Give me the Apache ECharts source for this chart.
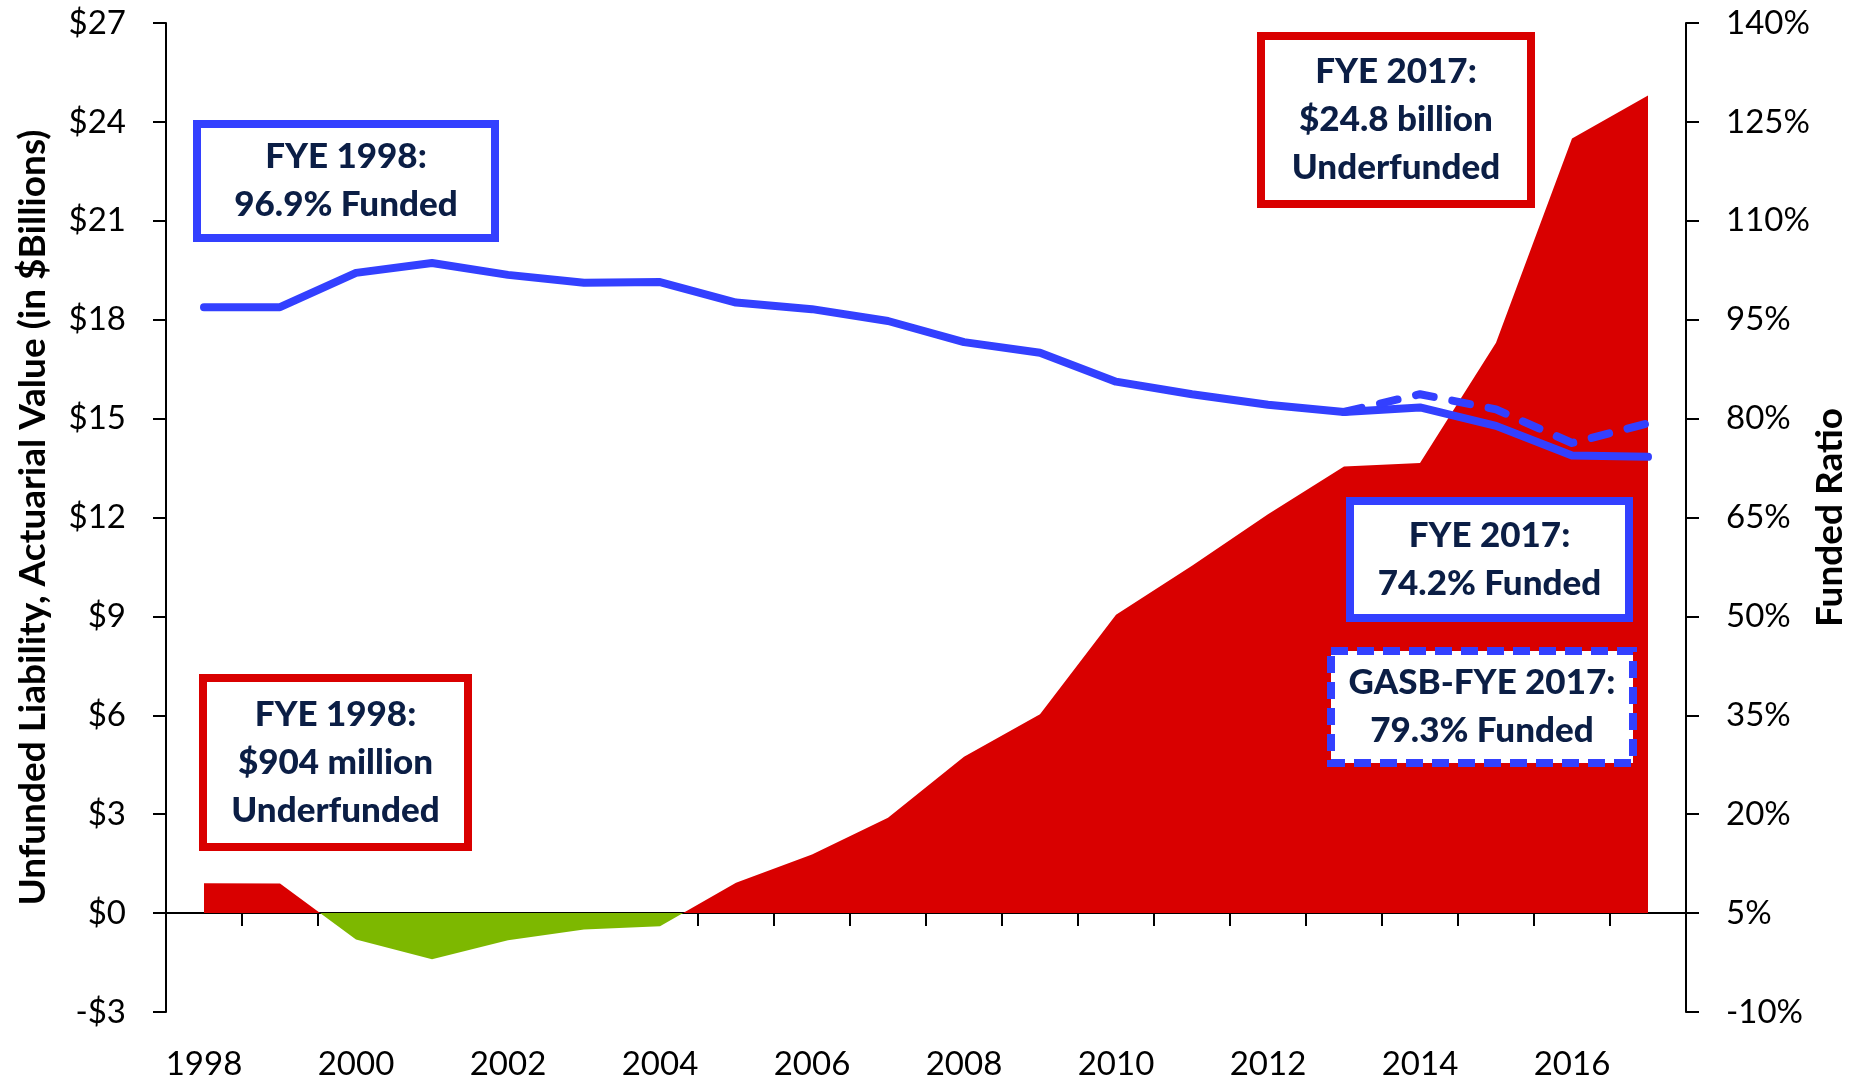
<!DOCTYPE html>
<html>
<head>
<meta charset="utf-8">
<script src="https://cdn.jsdelivr.net/npm/echarts@6/dist/echarts.min.js"></script>
<style>
html,body{margin:0;padding:0;background:#fff;}
#chart{width:1862px;height:1081px;}
</style>
</head>
<body>
<div id="chart"></div>
<script>
// ---- data ----
const years = ['1998','1999','2000','2001','2002','2003','2004','2005','2006','2007',
               '2008','2009','2010','2011','2012','2013','2014','2015','2016','2017'];
// Unfunded liability, actuarial value ($ billions)
const unfundedLiability = [0.904, 0.9, -0.8, -1.4, -0.82, -0.5, -0.4, 0.92, 1.78, 2.89,
                           4.74, 6.03, 9.05, 10.54, 12.1, 13.55, 13.65, 17.3, 23.5, 24.8];
// Funded ratio (%)
const fundedRatio = [96.9, 96.9, 102.1, 103.6, 101.8, 100.6, 100.7, 97.6, 96.6, 94.8,
                     91.6, 90.0, 85.6, 83.7, 82.1, 81.0, 81.7, 78.9, 74.4, 74.2];
// GASB funded ratio (%)
const gasbFundedRatio = [null, null, null, null, null, null, null, null, null, null,
                         null, null, null, null, null, 81.0, 83.7, 81.4, 76.3, 79.3];
// axis ranges / ticks
const leftAxisRange = [-3, 27, 3];
const rightAxisRange = [-10, 140, 15];
// annotation texts
const notes = {
  blue1998: 'FYE 1998:\n96.9% Funded',
  red2017: 'FYE 2017:\n$24.8 billion\nUnderfunded',
  red1998: 'FYE 1998:\n$904 million\nUnderfunded',
  blue2017: 'FYE 2017:\n74.2% Funded',
  gasb2017: 'GASB-FYE 2017:\n79.3% Funded'
};

const RED = '#D90000', GREEN = '#7DB800', BLUE = '#3340FF', NAVY = '#0B1E45';
const FONT = 'Lato';

function box(x, y, w, h, color, text, dashed) {
  return [
    {
      type: 'rect', z: 100,
      shape: {x: x, y: y, width: w, height: h},
      style: {fill: '#fff', stroke: color, lineWidth: 8, lineDash: dashed ? [17, 9] : null}
    },
    {
      type: 'text', z: 101,
      x: x + w / 2, y: y + h / 2,
      style: {
        text: text, align: 'center', verticalAlign: 'middle',
        fontFamily: FONT, fontWeight: 900, fontSize: 35, lineHeight: 48, fill: NAVY
      }
    }
  ];
}

const chart = echarts.init(document.getElementById('chart'));
chart.setOption({
  animation: false,
  backgroundColor: '#fff',
  grid: {left: 166, right: 176, top: 23, bottom: 69, containLabel: false, outerBoundsMode: 'none'},
  xAxis: {
    type: 'category',
    data: years,
    boundaryGap: true,
    axisLine: {onZero: true, onZeroAxisIndex: 0, lineStyle: {color: '#000', width: 2}},
    axisTick: {show: true, interval: 0, length: 13, lineStyle: {color: '#000', width: 2}},
    axisLabel: {interval: 1, fontSize: 33, color: '#000', fontFamily: FONT, margin: 36},
    splitLine: {show: false}
  },
  yAxis: [
    {
      type: 'value',
      min: leftAxisRange[0], max: leftAxisRange[1], interval: leftAxisRange[2],
      position: 'left',
      name: 'Unfunded Liability, Actuarial Value (in $Billions)',
      nameLocation: 'middle', nameRotate: 90, nameGap: 114, nameMoveOverlap: false,
      nameTextStyle: {fontSize: 37, fontWeight: 'bold', color: '#000', fontFamily: FONT},
      axisLine: {show: true, onZero: false, lineStyle: {color: '#000', width: 2}},
      axisTick: {show: true, length: 13, lineStyle: {color: '#000', width: 2}},
      axisLabel: {
        fontSize: 33, color: '#000', fontFamily: FONT, margin: 40,
        formatter: v => (v < 0 ? '-$' + (-v) : '$' + v)
      },
      splitLine: {show: false}
    },
    {
      type: 'value',
      min: rightAxisRange[0], max: rightAxisRange[1], interval: rightAxisRange[2],
      position: 'right',
      name: 'Funded Ratio',
      nameLocation: 'middle', nameRotate: 90, nameGap: 126, nameMoveOverlap: false,
      nameTextStyle: {fontSize: 37, fontWeight: 'bold', color: '#000', fontFamily: FONT},
      axisLine: {show: true, onZero: false, lineStyle: {color: '#000', width: 2}},
      axisTick: {show: true, length: 13, lineStyle: {color: '#000', width: 2}},
      axisLabel: {
        fontSize: 33, color: '#000', fontFamily: FONT, margin: 40,
        formatter: v => v + '%'
      },
      splitLine: {show: false}
    }
  ],
  visualMap: {
    show: false,
    type: 'piecewise',
    seriesIndex: 0,
    dimension: 1,
    pieces: [
      {gte: leftAxisRange[0], lt: 0, color: GREEN},
      {gte: 0, lte: leftAxisRange[1], color: RED}
    ]
  },
  series: [
    {
      name: 'Unfunded Liability',
      type: 'line',
      yAxisIndex: 0,
      data: unfundedLiability,
      showSymbol: false,
      lineStyle: {width: 0, opacity: 0},
      areaStyle: {opacity: 1, origin: 0}
    },
    {
      name: 'Funded Ratio',
      type: 'line',
      yAxisIndex: 1,
      data: fundedRatio,
      showSymbol: false,
      itemStyle: {color: BLUE},
      lineStyle: {color: BLUE, width: 8, cap: 'round', join: 'round'}
    },
    {
      name: 'GASB Funded Ratio',
      type: 'line',
      yAxisIndex: 1,
      data: gasbFundedRatio,
      showSymbol: false,
      connectNulls: false,
      itemStyle: {color: BLUE},
      lineStyle: {color: BLUE, width: 8, type: [18, 19], cap: 'round', join: 'round'}
    }
  ],
  graphic: {
    elements: [].concat(
      box(197, 124, 298, 114, BLUE, notes.blue1998, false),
      box(1261, 36, 270, 168, RED, notes.red2017, false),
      box(203, 678, 265, 169, RED, notes.red1998, false),
      box(1350, 501, 279, 117, BLUE, notes.blue2017, false),
      box(1331, 651, 302, 112, BLUE, notes.gasb2017, true)
    )
  }
});
</script>
</body>
</html>
